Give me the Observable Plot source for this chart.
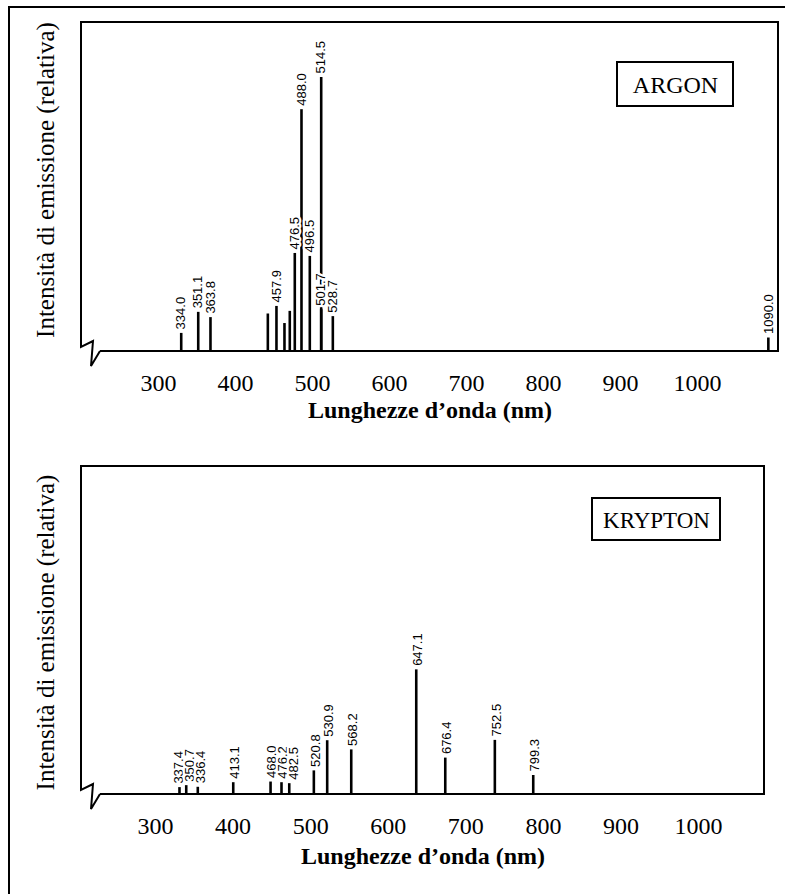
<!DOCTYPE html>
<html>
<head>
<meta charset="utf-8">
<script src="https://cdn.jsdelivr.net/npm/d3@7"></script>
<script src="https://cdn.jsdelivr.net/npm/@observablehq/plot@0.6"></script>
<style>
html, body { margin: 0; padding: 0; background: #fff; }
#wrap { position: relative; width: 785px; height: 894px; overflow: hidden; background: #fff; }
#border { position: absolute; left: 8px; top: 6px; width: 800px; height: 900px; border-left: 2px solid #000; border-top: 2px solid #000; pointer-events: none; }
#charts svg { display: block; }
</style>
</head>
<body>
<div id="wrap"><div id="charts"></div><div id="border"></div></div>
<script>
// ---- data (wavelengths in nm, intensity in % of full scale) ----
const xTicks = [300, 400, 500, 600, 700, 800, 900, 1000];

const argonNm        = [329.5, 351.6, 367.5, 442.0, 453.2, 463.6, 470.5, 477.0, 485.7, 496.5, 511.3, 511.3, 526.4, 1092.0];
const argonIntensity = [5.5, 11.9, 10.3, 11.4, 13.7, 8.5, 12.2, 29.8, 73.5, 28.9, 12.7, 83.3, 10.6, 4.1];
const argonLabel     = ["334.0", "351.1", "363.8", "", "457.9", "", "", "476.5", "488.0", "496.5", "501.7", "514.5", "528.7", "1090.0"];

const kryptonNm        = [330.9, 339.6, 354.5, 400.2, 448.3, 462.4, 472.4, 504.1, 521.3, 552.3, 636.1, 673.5, 737.4, 786.9];
const kryptonIntensity = [2.1, 2.7, 2.2, 3.6, 3.8, 3.6, 3.3, 7.2, 16.4, 13.6, 38.0, 11.1, 16.5, 5.8];
const kryptonLabel     = ["337.4", "350.7", "336.4", "413.1", "468.0", "476.2", "482.5", "520.8", "530.9", "568.2", "647.1", "676.4", "752.5", "799.3"];

const yTitle = "Intensità di emissione (relativa)";
const xTitle = "Lunghezze d\u2019onda (nm)";

const SERIF = "'Liberation Serif', 'Times New Roman', serif";
const SANS = "'Liberation Sans', Arial, sans-serif";
const NS = "http://www.w3.org/2000/svg";

// frame with the axis-break glyph at the lower-left corner
function frameWithBreak(index, scales, values, dims) {
  const x0 = dims.marginLeft, x1 = dims.width - dims.marginRight;
  const y0 = dims.marginTop, yb = dims.height - dims.marginBottom;
  const p = document.createElementNS(NS, "path");
  p.setAttribute("d",
    `M${x0 + 19},${yb}H${x1}V${y0}H${x0}V${yb - 4}L${x0 + 12},${yb - 10}L${x0 + 10},${yb + 15}L${x0 + 19},${yb}`);
  p.setAttribute("fill", "none");
  p.setAttribute("stroke", "#000");
  p.setAttribute("stroke-width", 2);
  return p;
}

function legendBox(w, h, right, top) {
  return (index, scales, values, dims) => {
    const r = document.createElementNS(NS, "rect");
    const x1 = dims.width - dims.marginRight;
    r.setAttribute("x", x1 - right - w);
    r.setAttribute("y", dims.marginTop + top);
    r.setAttribute("width", w);
    r.setAttribute("height", h);
    r.setAttribute("fill", "#fff");
    r.setAttribute("stroke", "#000");
    r.setAttribute("stroke-width", 2);
    return r;
  };
}

// push apart crowded labels (only those whose vertical extents overlap)
function dodgeLabels(nm, intensity, labels, domain, range, plotH, minGap, minVert) {
  const sx = d3.scaleLinear(domain, range);
  const px = nm.map(sx);
  const py = intensity.map(v => v / 100 * plotH);
  const out = px.slice();
  for (let it = 0; it < 60; it++) {
    for (let i = 0; i < out.length; i++) {
      if (!labels[i]) continue;
      for (let j = i + 1; j < out.length; j++) {
        if (!labels[j] || Math.abs(py[i] - py[j]) >= minVert) continue;
        const d = out[j] - out[i];
        if (Math.abs(d) < minGap) {
          const push = (minGap - Math.abs(d)) / 2;
          out[i] -= push; out[j] += push;
        }
      }
    }
  }
  return out.map(v => sx.invert(v));
}

function spectrum({nm, intensity, labels, name, nameSize, domain, height, marginBottom, marginRight, box, tickPadding, titleDy, yTitleDy, labelDx}) {
  const idx = d3.range(nm.length);
  const marginTop = 22, marginLeft = 81, width = 785;
  const labelNm = dodgeLabels(nm, intensity, labels, domain, [marginLeft, width - marginRight],
                              height - marginTop - marginBottom, 11, 36);
  return Plot.plot({
    width,
    height,
    marginTop,
    marginBottom,
    marginLeft,
    marginRight,
    style: {fontFamily: SERIF, background: "transparent", color: "#000", overflow: "visible"},
    x: {domain},
    y: {domain: [0, 100], axis: null},
    marks: [
      Plot.ruleX(idx, {x: i => nm[i], y1: 0, y2: i => intensity[i], stroke: "#000", strokeWidth: 2.6}),
      Plot.text(idx, {
        filter: i => labels[i] !== "",
        x: i => labelNm[i], y: i => intensity[i], text: i => labels[i],
        rotate: -90, textAnchor: "start", lineAnchor: "middle", dy: -4, dx: labelDx,
        fontFamily: SANS, fontSize: 13, fill: "#000",
        stroke: "#fff", strokeWidth: 4.5
      }),
      frameWithBreak,
      Plot.axisX(xTicks, {tickSize: 0, tickPadding, fontSize: 24, label: null, fontFamily: SERIF, tickFormat: d => String(d)}),
      Plot.text([xTitle], {frameAnchor: "bottom", lineAnchor: "middle", dy: titleDy, fontSize: 24, fontWeight: "bold", fontFamily: SERIF}),
      Plot.text([yTitle], {frameAnchor: "left", textAnchor: "middle", lineAnchor: "middle", rotate: -90, dx: -36, dy: yTitleDy, fontSize: 25, fontFamily: SERIF}),
      legendBox(box.w, box.h, box.right, box.top),
      Plot.text([name], {frameAnchor: "top-right", textAnchor: "middle", lineAnchor: "middle",
                         dx: -(box.right + box.w / 2), dy: box.top + box.h / 2 + 1, fontSize: nameSize, fontFamily: SERIF})
    ]
  });
}

const charts = document.getElementById("charts");
charts.append(spectrum({
  nm: argonNm, intensity: argonIntensity, labels: argonLabel, name: "ARGON", nameSize: 24,
  domain: [200, 1105.2], height: 444, marginBottom: 93, marginRight: 7,
  box: {w: 116, h: 44, right: 45, top: 40}, tickPadding: 22, titleDy: 59, yTitleDy: -7, labelDx: 0
}));
charts.append(spectrum({
  nm: kryptonNm, intensity: kryptonIntensity, labels: kryptonLabel, name: "KRYPTON", nameSize: 23,
  domain: [204.6, 1085], height: 450, marginBottom: 100, marginRight: 21,
  box: {w: 128, h: 42, right: 44, top: 32}, tickPadding: 22, titleDy: 62, yTitleDy: 2, labelDx: 2
}));
</script>
</body>
</html>
